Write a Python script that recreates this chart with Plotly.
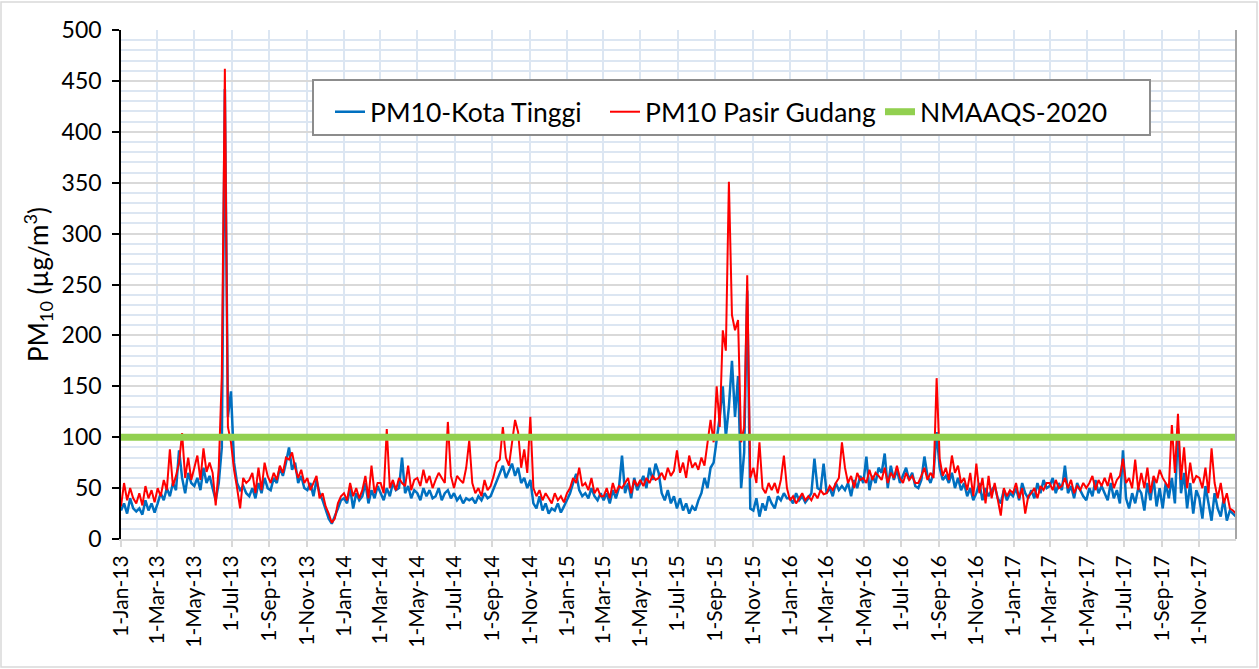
import pandas as pd
import plotly.graph_objects as go

# ---- data (5-day samples) ----
kota_tinggi_2013 = [28, 35, 25, 40, 30, 27, 30, 24, 38, 28, 35, 26, 35, 45, 38, 50, 42, 55,
                    48, 87, 60, 45, 65, 55, 52, 60, 48, 70, 55, 62, 50, 38, 55, 90, 442, 120,
                    145, 75, 55, 48, 52, 45, 42, 50, 40, 55, 45, 60, 50, 48, 60, 55, 70, 62, 75,
                    90, 68, 75, 55, 62, 50, 48, 55, 42, 58, 45, 38, 28, 20, 15, 22, 30, 38]
pasir_gudang_2013 = [32, 55, 38, 50, 40, 35, 45, 33, 52, 40, 48, 36, 50, 42, 58, 48, 88, 52,
                     62, 75, 104, 60, 80, 58, 70, 82, 58, 89, 66, 75, 65, 33, 70, 160, 462, 110,
                     95, 68, 50, 30, 60, 55, 58, 65, 45, 70, 48, 75, 62, 55, 65, 58, 72, 65, 80,
                     78, 85, 70, 60, 68, 55, 60, 48, 55, 62, 40, 45, 32, 25, 16, 20, 35, 42]
kota_tinggi_2014 = [40, 35, 50, 30, 45, 38, 42, 55, 35, 48, 40, 52, 45, 38, 50, 42, 55, 48,
                    50, 80, 45, 52, 40, 48, 45, 38, 50, 42, 48, 40, 42, 50, 38, 45, 48, 40,
                    45, 38, 42, 35, 40, 38, 40, 35, 42, 38, 45, 40, 42, 50, 58, 65, 72, 60, 68,
                    74, 62, 70, 55, 60, 50, 58, 35, 30, 42, 28, 35, 25, 30, 28, 35, 26, 32]
pasir_gudang_2014 = [45, 38, 55, 42, 50, 40, 48, 62, 40, 72, 45, 55, 55, 45, 108, 50, 58, 48,
                     60, 55, 52, 72, 48, 58, 60, 52, 68, 55, 62, 50, 58, 65, 60, 55, 115, 62,
                     50, 62, 58, 55, 70, 97, 55, 45, 50, 42, 58, 48, 52, 62, 75, 78, 110, 80, 72,
                     95, 117, 105, 70, 88, 65, 120, 50, 42, 48, 38, 45, 40, 35, 45, 38, 42, 36]
kota_tinggi_2015 = [38, 45, 55, 64, 48, 42, 45, 40, 50, 42, 38, 45, 38, 45, 35, 48, 40, 50,
                    82, 45, 55, 40, 60, 48, 55, 62, 50, 70, 58, 74, 65, 45, 38, 48, 35, 42,
                    30, 40, 28, 35, 25, 32, 28, 38, 45, 60, 50, 70, 75, 95, 120, 150, 100, 130, 175,
                    120, 160, 50, 85, 244, 30, 28, 40, 22, 35, 28, 42, 35, 30, 42, 38, 45, 40]
pasir_gudang_2015 = [45, 50, 60, 55, 70, 52, 55, 48, 60, 45, 50, 42, 42, 50, 40, 55, 45, 52,
                     50, 55, 60, 45, 58, 52, 58, 52, 60, 55, 62, 58, 60, 65, 58, 70, 62, 67,
                     87, 65, 75, 60, 82, 70, 75, 68, 80, 72, 95, 117, 95, 150, 110, 205, 185, 351, 220,
                     205, 215, 95, 110, 259, 60, 70, 55, 95, 50, 45, 55, 48, 55, 45, 58, 82, 50]
kota_tinggi_2016 = [40, 35, 45, 38, 42, 36, 40, 45, 79, 50, 48, 74, 45, 50, 42, 55, 48, 52,
                    48, 55, 42, 58, 50, 62, 55, 81, 48, 62, 55, 70, 65, 84, 50, 72, 58, 68,
                    55, 62, 70, 58, 65, 52, 50, 58, 81, 62, 55, 65, 105, 70, 58, 62, 55, 65, 50,
                    60, 48, 55, 42, 50, 38, 45, 55, 38, 50, 42, 48, 52, 40, 35, 48, 38, 45]
pasir_gudang_2016 = [38, 42, 35, 40, 45, 38, 42, 38, 45, 40, 48, 44, 45, 52, 48, 55, 60, 95,
                     70, 55, 62, 50, 65, 58, 60, 55, 68, 58, 65, 62, 58, 70, 55, 65, 60, 72,
                     60, 55, 65, 58, 62, 55, 55, 62, 70, 58, 65, 60, 158, 79, 62, 70, 58, 82, 65,
                     72, 55, 60, 48, 65, 42, 74, 45, 60, 35, 62, 40, 55, 38, 23, 50, 42, 48]
kota_tinggi_2017 = [42, 50, 38, 55, 45, 40, 48, 40, 55, 45, 58, 50, 52, 60, 45, 55, 48, 72,
                    45, 52, 40, 55, 48, 42, 38, 50, 42, 58, 45, 52, 45, 38, 55, 40, 48, 35,
                    87, 40, 30, 45, 35, 50, 45, 28, 55, 38, 60, 32, 50, 30, 55, 40, 60, 35, 109,
                    45, 65, 30, 55, 25, 48, 40, 20, 52, 35, 18, 45, 30, 22, 40, 18, 28, 25, 22]
pasir_gudang_2017 = [45, 55, 40, 50, 25, 42, 45, 50, 40, 52, 48, 55, 55, 48, 58, 50, 52, 60,
                     50, 58, 45, 52, 48, 55, 50, 55, 62, 48, 58, 52, 60, 52, 65, 50, 58, 62,
                     79, 55, 60, 50, 78, 48, 65, 50, 70, 45, 62, 55, 68, 60, 55, 50, 112, 65, 123,
                     58, 90, 50, 75, 55, 62, 60, 50, 70, 45, 89, 55, 40, 55, 35, 45, 30, 28, 25]
nmaaqs_limit = 100
series_names = ["PM10-Kota Tinggi", "PM10 Pasir Gudang", "NMAAQS-2020"]

kota_tinggi = kota_tinggi_2013 + kota_tinggi_2014 + kota_tinggi_2015 + kota_tinggi_2016 + kota_tinggi_2017
pasir_gudang = pasir_gudang_2013 + pasir_gudang_2014 + pasir_gudang_2015 + pasir_gudang_2016 + pasir_gudang_2017
dates = pd.date_range("2013-01-01", periods=len(kota_tinggi), freq="5D")
tick_dates = pd.date_range("2013-01-01", "2017-11-01", freq="2MS")

FONT = "Lato"
fig = go.Figure()
fig.add_trace(go.Scatter(x=dates, y=kota_tinggi, mode="lines", name=series_names[0],
                         line=dict(color="#0070C0", width=2.5)))
fig.add_trace(go.Scatter(x=dates, y=pasir_gudang, mode="lines", name=series_names[1],
                         line=dict(color="#FF0000", width=2)))
fig.add_trace(go.Scatter(x=[dates[0], dates[-1]], y=[nmaaqs_limit, nmaaqs_limit], mode="lines",
                         name=series_names[2], line=dict(color="#92D050", width=7)))

L, R, T, B = 121, 23, 30, 130
W, H = 1259, 669
pw, ph = W - L - R, H - T - B


def px_x(x):
    return (x - L) / pw


def px_y(y):
    return (H - B - y) / ph


fig.update_layout(
    width=W, height=H,
    margin=dict(l=L, r=R, t=T, b=B),
    paper_bgcolor="white", plot_bgcolor="white",
    font=dict(family=FONT, color="black"),
    showlegend=True,
    legend=dict(orientation="h", x=px_x(330), y=px_y(88), xanchor="left", yanchor="top",
                bgcolor="rgba(0,0,0,0)", font=dict(size=26.5, family=FONT),
                entrywidth=230, entrywidthmode="pixels",
                traceorder="normal"),
    xaxis=dict(
        type="date", range=["2013-01-01", "2017-12-31"],
        tickvals=tick_dates, tickformat="%-d-%b-%y", tickangle=-90,
        tickfont=dict(size=21, family=FONT),
        showline=True, linecolor="#D9D9D9", linewidth=2,
        ticks="outside", tickcolor="#D9D9D9", ticklen=6, tickwidth=2,
        showgrid=True, gridcolor="#DCE6F2", gridwidth=2, zeroline=False,
    ),
    yaxis=dict(
        range=[0, 500], dtick=50, tickfont=dict(size=23, family=FONT),
        showline=True, linecolor="black", linewidth=1.5,
        ticks="outside", tickcolor="black", ticklen=7, tickwidth=1.5,
        ticklabelstandoff=6,
        showgrid=True, gridcolor="#D9D9D9", gridwidth=2, zeroline=False,
        minor=dict(dtick=10, showgrid=True, gridcolor="#DCE6F2", gridwidth=1.5, ticks=""),
        title=dict(text="PM<sub>10</sub> (µg/m<sup>3</sup>)", font=dict(size=26, family=FONT), standoff=6),
    ),
    shapes=[
        dict(type="rect", xref="paper", yref="paper", x0=px_x(313), x1=px_x(1150),
             y0=px_y(135), y1=px_y(80), fillcolor="white", line=dict(color="#8C8C8C", width=2),
             layer="above"),
        dict(type="line", xref="paper", yref="paper", x0=1, x1=1, y0=0, y1=1,
             line=dict(color="#A6A6A6", width=2), layer="above"),
        dict(type="rect", xref="paper", yref="paper", x0=px_x(1), x1=px_x(1257),
             y0=px_y(667), y1=px_y(2), line=dict(color="#D9D9D9", width=1.5), layer="below"),
    ],
)

fig.write_html("out.html", config={"displayModeBar": False},
               post_script="document.body.style.margin='0';")
